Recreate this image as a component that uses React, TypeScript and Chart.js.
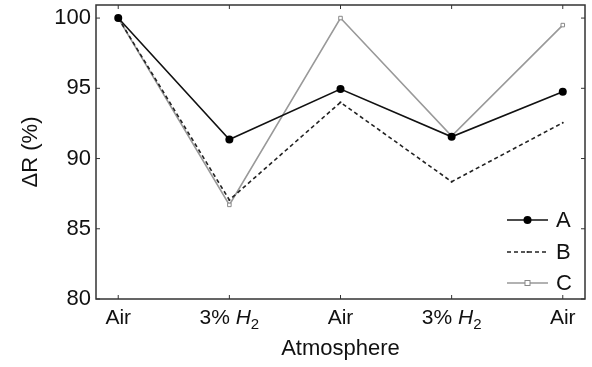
import React, { useEffect, useRef } from "react";
import { Chart, registerables } from "chart.js";

Chart.register(...registerables);

const categories = ["Air", "3% H2", "Air", "3% H2", "Air"];
const seriesNames = ["A", "B", "C"];
const valuesA = [100, 91.35, 94.95, 91.55, 94.75];
const valuesB = [100, 87.05, 94.0, 88.35, 92.55];
const valuesC = [100, 86.7, 100, 91.6, 99.5];
const yTicks = [80, 85, 90, 95, 100];

const FONT = "'Liberation Sans', Arial, sans-serif";

function drawCatLabel(ctx: CanvasRenderingContext2D, label: string, cx: number, y: number) {
  const size = 21;
  const normal = `${size}px ${FONT}`;
  const italic = `italic ${size}px ${FONT}`;
  const sub = `${Math.round(size * 0.7)}px ${FONT}`;
  ctx.textBaseline = "alphabetic";
  ctx.textAlign = "left";
  ctx.fillStyle = "#111";
  const m = label.match(/^(.*?)H2$/);
  if (!m) {
    ctx.font = normal;
    const w = ctx.measureText(label).width;
    ctx.fillText(label, cx - w / 2, y);
    return;
  }
  const pre = m[1];
  ctx.font = normal;
  const w1 = ctx.measureText(pre).width;
  ctx.font = italic;
  const w2 = ctx.measureText("H").width;
  ctx.font = sub;
  const w3 = ctx.measureText("2").width;
  let x = cx - (w1 + w2 + w3) / 2;
  ctx.font = normal;
  ctx.fillText(pre, x, y);
  x += w1;
  ctx.font = italic;
  ctx.fillText("H", x, y);
  x += w2;
  ctx.font = sub;
  ctx.fillText("2", x, y + 5);
}

const framePlugin = {
  id: "frameAndLegend",
  afterDraw(chart: any) {
    const { ctx, chartArea, scales } = chart;
    const { left, right, top, bottom } = chartArea;
    ctx.save();
    ctx.strokeStyle = "#333";
    ctx.lineWidth = 1.5;
    ctx.strokeRect(left, top, right - left, bottom - top);
    ctx.lineWidth = 1;
    const tl = 4;
    ctx.beginPath();
    categories.forEach((_, i) => {
      const x = scales.x.getPixelForValue(i);
      ctx.moveTo(x, bottom);
      ctx.lineTo(x, bottom - tl);
      ctx.moveTo(x, top);
      ctx.lineTo(x, top + tl);
    });
    yTicks.forEach((v) => {
      const y = scales.y.getPixelForValue(v);
      ctx.moveTo(left, y);
      ctx.lineTo(left + tl, y);
      ctx.moveTo(right, y);
      ctx.lineTo(right - tl, y);
    });
    ctx.stroke();
    categories.forEach((c, i) => {
      drawCatLabel(ctx, c, scales.x.getPixelForValue(i), bottom + 25);
    });
    const lx0 = right - 78;
    const lx1 = right - 37;
    const rowY = [bottom - 79, bottom - 47, bottom - 16];
    chart.data.datasets.forEach((ds: any, i: number) => {
      const y = rowY[i];
      ctx.strokeStyle = ds.borderColor;
      ctx.lineWidth = ds.borderWidth;
      ctx.setLineDash(ds.borderDash || []);
      ctx.beginPath();
      ctx.moveTo(lx0, y);
      ctx.lineTo(lx1, y);
      ctx.stroke();
      ctx.setLineDash([]);
      const mx = (lx0 + lx1) / 2;
      if (ds.pointStyle === "rect") {
        const r = ds.pointRadius;
        ctx.fillStyle = ds.pointBackgroundColor;
        ctx.fillRect(mx - r, y - r, 2 * r, 2 * r);
        ctx.strokeStyle = ds.pointBorderColor;
        ctx.lineWidth = 1;
        ctx.strokeRect(mx - r, y - r, 2 * r, 2 * r);
      } else if (ds.pointRadius > 0) {
        ctx.fillStyle = ds.pointBackgroundColor;
        ctx.beginPath();
        ctx.arc(mx, y, ds.pointRadius, 0, Math.PI * 2);
        ctx.fill();
      }
      ctx.fillStyle = "#111";
      ctx.font = `22px ${FONT}`;
      ctx.textAlign = "left";
      ctx.textBaseline = "middle";
      ctx.fillText(ds.label, lx1 + 8, y + 1);
    });
    ctx.restore();
  },
};

export default function App() {
  const ref = useRef<HTMLCanvasElement>(null);
  useEffect(() => {
    document.body.style.margin = "0";
    const mk = (vals: number[]) => vals.map((v, i) => ({ x: i, y: v }));
    const chart = new Chart(ref.current!, {
      type: "line",
      data: {
        datasets: [
          {
            label: seriesNames[0],
            data: mk(valuesA),
            borderColor: "#111",
            borderWidth: 1.6,
            pointRadius: 4,
            pointBackgroundColor: "#000",
            pointBorderColor: "#000",
            pointBorderWidth: 0,
          },
          {
            label: seriesNames[1],
            data: mk(valuesB),
            borderColor: "#222",
            borderWidth: 1.6,
            borderDash: [4, 3],
            pointRadius: 1,
            pointBackgroundColor: "#222",
            pointBorderColor: "#222",
            pointBorderWidth: 0,
          },
          {
            label: seriesNames[2],
            data: mk(valuesC),
            borderColor: "#999",
            borderWidth: 1.6,
            pointStyle: "rect",
            pointRadius: 2.5,
            pointBackgroundColor: "#fff",
            pointBorderColor: "#888",
            pointBorderWidth: 1,
          },
        ],
      },
      options: {
        animation: false,
        responsive: false,
        events: [],
        layout: { padding: { top: 5, right: 7, left: 0, bottom: 0 } },
        plugins: { legend: { display: false }, tooltip: { enabled: false } },
        scales: {
          x: {
            type: "linear",
            min: -0.2,
            max: 4.2,
            afterFit: (s: any) => {
              s.height = 68;
              s.paddingLeft = 0;
              s.paddingRight = 0;
            },
            grid: { display: false, drawTicks: false },
            border: { display: false },
            ticks: { display: false, stepSize: 1 },
            title: {
              display: true,
              text: "Atmosphere",
              color: "#111",
              font: { family: FONT, size: 22, lineHeight: 1 },
              padding: { top: 0, bottom: 7 },
            },
          },
          y: {
            min: 80,
            max: 100.93,
            afterFit: (s: any) => {
              s.width = 96;
              s.paddingTop = 0;
              s.paddingBottom = 0;
            },
            afterBuildTicks: (s: any) => {
              s.ticks = yTicks.map((v) => ({ value: v }));
            },
            grid: { display: false, drawTicks: false },
            border: { display: false },
            ticks: {
              color: "#111",
              padding: 5,
              font: { family: FONT, size: 22 },
            },
            title: {
              display: true,
              text: "ΔR (%)",
              color: "#111",
              font: { family: FONT, size: 22, lineHeight: 1 },
              padding: { top: 20, bottom: 0 },
            },
          },
        },
      },
      plugins: [framePlugin],
    } as any);
    return () => chart.destroy();
  }, []);
  return <canvas ref={ref} width={592} height={367} style={{ display: "block" }} />;
}
